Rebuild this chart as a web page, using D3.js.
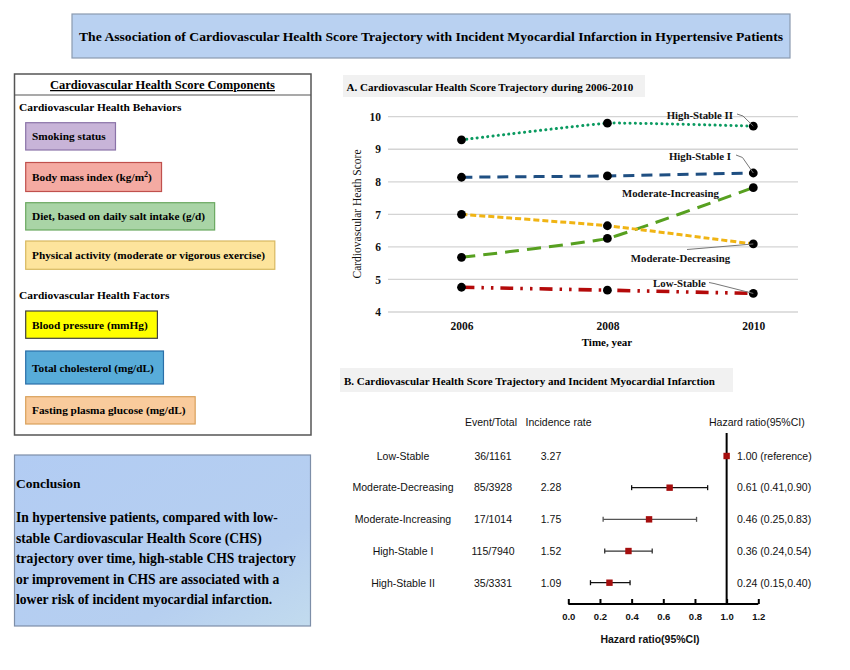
<!DOCTYPE html>
<html><head><meta charset="utf-8">
<script src="https://cdn.jsdelivr.net/npm/d3@7"></script>
<style>
html,body{margin:0;padding:0;background:#fff;}
svg{display:block;}
.serif{font-family:"Liberation Serif","Times New Roman",serif;}
.sans{font-family:"Liberation Sans",Arial,sans-serif;}
</style></head>
<body>
<svg id="chart" width="850" height="670"></svg>
<script>
// ---------- DATA ----------
const mainTitle = "The Association of Cardiovascular Health Score Trajectory with Incident Myocardial Infarction in Hypertensive Patients";
const componentsTitle = "Cardiovascular Health Score Components";
const behaviorsTitle = "Cardiovascular Health Behaviors";
const behaviors = ["Smoking status", "Body mass index (kg/m^2)", "Diet, based on daily salt intake (g/d)", "Physical activity (moderate or vigorous exercise)"];
const behaviorColors = ["#c8b4d8", "#f4aaa2", "#a9d4a6", "#fde49c"];
const behaviorBorders = ["#8a73a8", "#c0504d", "#6aa860", "#d8b860"];
const factorsTitle = "Cardiovascular Health Factors";
const factors = ["Blood pressure (mmHg)", "Total cholesterol (mg/dL)", "Fasting plasma glucose (mg/dL)"];
const factorColors = ["#ffff00", "#58acd9", "#f9cb9c"];
const factorBorders = ["#404040", "#2a6fa8", "#d9a05b"];
const conclusionTitle = "Conclusion";
const conclusionLines = [
  "In hypertensive patients, compared with low-",
  "stable Cardiovascular Health Score (CHS)",
  "trajectory over time, high-stable CHS trajectory",
  "or improvement in CHS are associated with a",
  "lower risk of incident myocardial infarction."
];

const panelATitle = "A. Cardiovascular Health Score Trajectory during 2006-2010";
const years = [2006, 2008, 2010];
const trajectoryNames = ["High-Stable II", "High-Stable I", "Moderate-Increasing", "Moderate-Decreasing", "Low-Stable"];
const highStableII = [9.29, 9.80, 9.71];
const highStableI = [8.14, 8.18, 8.27];
const moderateIncreasing = [5.68, 6.26, 7.82];
const moderateDecreasing = [7.00, 6.65, 6.09];
const lowStable = [4.76, 4.67, 4.57];
const scoreTicks = [4, 5, 6, 7, 8, 9, 10];
const yAxisTitle = "Cardiovascular Heath Score";
const xAxisTitle = "Time, year";

const panelBTitle = "B. Cardiovascular Health Score Trajectory and Incident Myocardial Infarction";
const groups = ["Low-Stable", "Moderate-Decreasing", "Moderate-Increasing", "High-Stable I", "High-Stable II"];
const eventTotal = ["36/1161", "85/3928", "17/1014", "115/7940", "35/3331"];
const incidenceRate = ["3.27", "2.28", "1.75", "1.52", "1.09"];
const hrLabels = ["1.00 (reference)", "0.61 (0.41,0.90)", "0.46 (0.25,0.83)", "0.36 (0.24,0.54)", "0.24 (0.15,0.40)"];
const hrPoint = [1.00, 0.64, 0.51, 0.38, 0.26];
const ciLow = [null, 0.40, 0.22, 0.23, 0.14];
const ciHigh = [null, 0.88, 0.81, 0.53, 0.39];
const hrTicks = [0.0, 0.2, 0.4, 0.6, 0.8, 1.0, 1.2];
const hrHeaders = ["Event/Total", "Incidence rate", "Hazard ratio(95%CI)"];
const hrAxisTitle = "Hazard ratio(95%CI)";

// ---------- DRAW ----------
const svg = d3.select("#chart");
const defs = svg.append("defs");
const grad = defs.append("linearGradient").attr("id","concGrad").attr("x1",0).attr("y1",0).attr("x2",1).attr("y2",1);
grad.append("stop").attr("offset","0%").attr("stop-color","#b2ccf3");
grad.append("stop").attr("offset","70%").attr("stop-color","#b6cff0");
grad.append("stop").attr("offset","100%").attr("stop-color","#c2dbee");

// Main title
svg.append("rect").attr("x",72).attr("y",14).attr("width",718).attr("height",44)
  .attr("fill","#b9d1f1").attr("stroke","#8a9ab0").attr("stroke-width",1.2);
svg.append("text").attr("class","serif").attr("x",431).attr("y",41).attr("text-anchor","middle")
  .attr("font-weight","bold").attr("font-size",13.5).attr("textLength",704).attr("lengthAdjust","spacingAndGlyphs")
  .text(mainTitle);

// Components panel
svg.append("rect").attr("x",14.5).attr("y",74).attr("width",296.5).attr("height",361)
  .attr("fill","#fff").attr("stroke","#555").attr("stroke-width",1.5);
svg.append("line").attr("x1",14.5).attr("x2",311).attr("y1",95).attr("y2",95).attr("stroke","#555").attr("stroke-width",1.2);
svg.append("text").attr("class","serif").attr("x",162.5).attr("y",89).attr("text-anchor","middle")
  .attr("font-weight","bold").attr("font-size",12.5).attr("text-decoration","underline").text(componentsTitle);
svg.append("text").attr("class","serif").attr("x",19).attr("y",110.5).attr("font-weight","bold").attr("font-size",11.4).text(behaviorsTitle);
svg.append("text").attr("class","serif").attr("x",19).attr("y",299).attr("font-weight","bold").attr("font-size",11.4).text(factorsTitle);

function drawBoxes(items, fills, borders, ys, hs){
  items.forEach((t,i)=>{
    const g = svg.append("g");
    const r = g.append("rect").attr("x",25.7).attr("y",ys[i]).attr("height",hs[i])
      .attr("fill",fills[i]).attr("stroke",borders[i]).attr("stroke-width",1.2);
    const tx = g.append("text").attr("class","serif").attr("x",32).attr("y",ys[i]+hs[i]/2+4)
      .attr("font-weight","bold").attr("font-size",11.3);
    if (t.includes("^")) {
      const parts = t.split("^");
      tx.append("tspan").text(parts[0]);
      tx.append("tspan").attr("dy",-4).attr("font-size",8).text(parts[1][0]);
      tx.append("tspan").attr("dy",4).text(parts[1].slice(1));
    } else tx.text(t);
    const w = tx.node().getComputedTextLength();
    r.attr("width", w + 16);
  });
}
drawBoxes(behaviors, behaviorColors, behaviorBorders, [122.7,162.5,202.7,241], [27.3,29,27.3,28.3]);
drawBoxes(factors, factorColors, factorBorders, [311,351,396.7], [27.3,33,27.3]);

// Conclusion
svg.append("rect").attr("x",14.5).attr("y",455).attr("width",296).attr("height",171)
  .attr("fill","url(#concGrad)").attr("stroke","#7d8ea8").attr("stroke-width",1.2);
svg.append("text").attr("class","serif").attr("x",16).attr("y",487.5).attr("font-weight","bold").attr("font-size",13.5).text(conclusionTitle);
svg.append("g").selectAll("text").data(conclusionLines).join("text").attr("class","serif")
  .attr("x",16).attr("y",(d,i)=>522+i*20.5).attr("font-weight","bold").attr("font-size",13.6).text(d=>d);

// ---------- Panel A ----------
svg.append("rect").attr("x",343).attr("y",75).attr("width",302).attr("height",22).attr("fill","#f1f1f1");
svg.append("text").attr("class","serif").attr("x",346.5).attr("y",90.5).attr("font-weight","bold").attr("font-size",11).text(panelATitle);

const xA = d3.scaleLinear().domain([2006,2010]).range([461.5,753.3]);
const yA = d3.scaleLinear().domain([4,10]).range([312,116.7]);

svg.append("g").selectAll("line").data(scoreTicks).join("line")
  .attr("x1",388).attr("x2",798).attr("y1",d=>yA(d)).attr("y2",d=>yA(d))
  .attr("stroke","#d4d4d4").attr("stroke-width",1.3);

const yAxisA = d3.axisLeft(yA).tickValues(scoreTicks).tickSize(0).tickPadding(0).tickFormat(d3.format("d"));
const yAx = svg.append("g").attr("transform","translate(381,0)").call(yAxisA);
yAx.select(".domain").remove();
yAx.selectAll("text").attr("font-family","Liberation Serif, serif").attr("font-weight","bold").attr("font-size",11.5).attr("fill","#111");

const xAxisA = d3.axisBottom(xA).tickValues(years).tickSize(0).tickPadding(0).tickFormat(d3.format("d"));
const xAx = svg.append("g").attr("transform","translate(0,322)").call(xAxisA);
xAx.select(".domain").remove();
xAx.selectAll("text").attr("font-family","Liberation Serif, serif").attr("font-weight","bold").attr("font-size",11.5).attr("fill","#111");

svg.append("text").attr("class","serif").attr("x",607).attr("y",346).attr("text-anchor","middle")
  .attr("font-weight","bold").attr("font-size",11).text(xAxisTitle);
svg.append("text").attr("class","serif").attr("transform","translate(361,214) rotate(-90)").attr("text-anchor","middle")
  .attr("font-size",11.5).attr("fill","#111").text(yAxisTitle);

const series = [
  {name: trajectoryNames[4], vals: lowStable, color:"#b40a0a", dash:"13,7,2.5,7,2.5,7", w:3.6, cap:"butt"},
  {name: trajectoryNames[2], vals: moderateIncreasing, color:"#57a020", dash:"14,8", w:3, cap:"butt"},
  {name: trajectoryNames[3], vals: moderateDecreasing, color:"#f0b414", dash:"6,3", w:3, cap:"butt"},
  {name: trajectoryNames[1], vals: highStableI, color:"#1f4f82", dash:"11,7", w:3, cap:"butt"},
  {name: trajectoryNames[0], vals: highStableII, color:"#0a9a60", dash:"0.1,5.2", w:3, cap:"round"}
];
const lineGen = d3.line().x(d=>xA(d[0])).y(d=>yA(d[1])).curve(d3.curveCardinal.tension(0.65));
series.forEach(s=>{
  const pts = years.map((yr,i)=>[yr, s.vals[i]]);
  svg.append("path").datum(pts).attr("d",lineGen).attr("fill","none")
    .attr("stroke",s.color).attr("stroke-width",s.w).attr("stroke-dasharray",s.dash).attr("stroke-linecap",s.cap);
});
series.forEach(s=>{
  svg.append("g").selectAll("circle").data(years.map((yr,i)=>[yr,s.vals[i]])).join("circle")
    .attr("cx",d=>xA(d[0])).attr("cy",d=>yA(d[1])).attr("r",4.4).attr("fill","#000");
});

// labels with leader lines
const labelSpec = {
  "High-Stable II": {tx:733, ty:118.5, anchor:"end", leader:[[737,114],[743,116]]},
  "High-Stable I": {tx:731, ty:159.5, anchor:"end", leader:[[736,155],[742.5,157.5]]},
  "Moderate-Increasing": {tx:670.5, ty:196.5, anchor:"middle", leader:null},
  "Moderate-Decreasing": {tx:680.5, ty:261.5, anchor:"middle", leader:[[687,249.5]]},
  "Low-Stable": {tx:679.5, ty:287, anchor:"middle", leader:[[709,282.5],[714,283.5]]}
};
series.forEach(s=>{
  const sp = labelSpec[s.name];
  const p = [xA(2010), yA(s.vals[2])];
  if (sp.leader){
    svg.append("path").attr("d",d3.line()(sp.leader.concat([p]))).attr("fill","none").attr("stroke","#777").attr("stroke-width",1);
  }
  svg.append("text").attr("class","serif").attr("x",sp.tx).attr("y",sp.ty).attr("text-anchor",sp.anchor)
    .attr("font-weight","bold").attr("font-size",10.8).attr("fill","#111").text(s.name);
});

// ---------- Panel B ----------
svg.append("rect").attr("x",340).attr("y",368).attr("width",393).attr("height",24).attr("fill","#f1f1f1");
svg.append("text").attr("class","serif").attr("x",344).attr("y",384.5).attr("font-weight","bold").attr("font-size",11).text(panelBTitle);

const xB = d3.scaleLinear().domain([0,1.2]).range([568.3,758.3]);
const yB = d3.scalePoint().domain(groups).range([456,582.7]);

const hdr = svg.append("g").attr("class","sans").attr("font-size",10.5).attr("fill","#111");
hdr.append("text").attr("x",491).attr("y",425.5).attr("text-anchor","middle").text(hrHeaders[0]);
hdr.append("text").attr("x",558.5).attr("y",425.5).attr("text-anchor","middle").text(hrHeaders[1]);
hdr.append("text").attr("x",709).attr("y",425.5).text(hrHeaders[2]);

const rows = svg.append("g").attr("class","sans").attr("font-size",10.5).attr("fill","#111");
rows.selectAll(".gname").data(groups).join("text").attr("class","gname").attr("x",403).attr("y",d=>yB(d)+3.8)
  .attr("text-anchor","middle").text(d=>d);
rows.selectAll(".evt").data(eventTotal).join("text").attr("class","evt").attr("x",493).attr("y",(d,i)=>yB(groups[i])+3.8)
  .attr("text-anchor","middle").text(d=>d);
rows.selectAll(".inc").data(incidenceRate).join("text").attr("class","inc").attr("x",551).attr("y",(d,i)=>yB(groups[i])+3.8)
  .attr("text-anchor","middle").text(d=>d);
rows.selectAll(".hr").data(hrLabels).join("text").attr("class","hr").attr("x",737).attr("y",(d,i)=>yB(groups[i])+3.8)
  .text(d=>d);

// reference line
svg.append("line").attr("x1",xB(1)).attr("x2",xB(1)).attr("y1",433).attr("y2",604).attr("stroke","#000").attr("stroke-width",2);

// CI bars
const ciColors = ["#000","#111","#555","#333","#111"];
groups.forEach((g,i)=>{
  if (ciLow[i]==null) return;
  const y = yB(g);
  const gg = svg.append("g").attr("stroke",ciColors[i]).attr("stroke-width",1.3);
  gg.append("line").attr("x1",xB(ciLow[i])).attr("x2",xB(ciHigh[i])).attr("y1",y).attr("y2",y);
  gg.append("line").attr("x1",xB(ciLow[i])).attr("x2",xB(ciLow[i])).attr("y1",y-2.5).attr("y2",y+2.5);
  gg.append("line").attr("x1",xB(ciHigh[i])).attr("x2",xB(ciHigh[i])).attr("y1",y-2.5).attr("y2",y+2.5);
});
svg.append("g").selectAll("rect").data(hrPoint).join("rect")
  .attr("x",d=>xB(d)-3.2).attr("y",(d,i)=>yB(groups[i])-3.2).attr("width",6.4).attr("height",6.4).attr("fill","#a50e0e");

// HR axis
const xAxisB = d3.axisBottom(xB).tickValues(hrTicks).tickSize(-5).tickPadding(7).tickFormat(d3.format(".1f"));
const bAx = svg.append("g").attr("transform","translate(0,604)").call(xAxisB);
bAx.select(".domain").attr("stroke","#000").attr("stroke-width",2).attr("d","M568.3,0H758.3");
bAx.selectAll(".tick line").attr("stroke","#000").attr("stroke-width",2).attr("y2",-5);
bAx.selectAll("text").attr("font-family","Liberation Sans, Arial, sans-serif").attr("font-weight","bold").attr("font-size",9.5).attr("fill","#111").attr("dy","0.9em");
svg.append("text").attr("class","sans").attr("x",650).attr("y",643).attr("text-anchor","middle")
  .attr("font-weight","bold").attr("font-size",10.5).attr("fill","#111").text(hrAxisTitle);
</script>
</body></html>
